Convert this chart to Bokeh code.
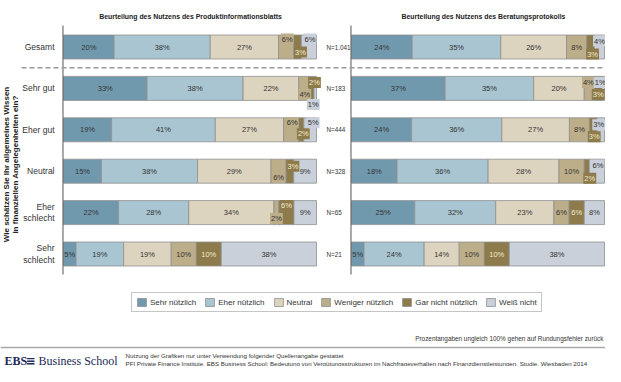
import math
from bokeh.plotting import figure
from bokeh.models import ColumnDataSource, Range1d, Label, Legend, LegendItem
from bokeh.core.properties import value
from bokeh.embed import file_html
from bokeh.resources import INLINE

# ---------------- data ----------------
series = ["Sehr nützlich", "Eher nützlich", "Neutral", "Weniger nützlich",
          "Gar nicht nützlich", "Weiß nicht"]
rows = ["Gesamt", "Sehr gut", "Eher gut", "Neutral", "Eher\nschlecht", "Sehr\nschlecht"]
n_labels = ["N=1.041", "N=183", "N=444", "N=328", "N=65", "N=21"]
titles = ["Beurteilung des Nutzens des Produktinformationsblatts",
          "Beurteilung des Nutzens des Beratungsprotokolls"]
axis_title = ["Wie schätzen Sie Ihr allgemeines Wissen",
              "in finanziellen Angelegenheiten ein?"]

# Produktinformationsblatt
pib_sehr = [20, 33, 19, 15, 22, 5]
pib_eher = [38, 38, 41, 38, 28, 19]
pib_neutral = [27, 22, 27, 29, 34, 19]
pib_weniger = [6, 4, 6, 6, 2, 10]
pib_garnicht = [3, 2, 2, 3, 6, 10]
pib_weiss = [6, 1, 5, 9, 9, 38]

# Beratungsprotokoll
bp_sehr = [24, 37, 24, 18, 25, 5]
bp_eher = [35, 35, 36, 36, 32, 24]
bp_neutral = [26, 20, 27, 28, 23, 14]
bp_weniger = [8, 4, 8, 10, 6, 10]
bp_garnicht = [3, 3, 3, 2, 6, 10]
bp_weiss = [4, 1, 3, 6, 8, 38]

panels = [
    [pib_sehr, pib_eher, pib_neutral, pib_weniger, pib_garnicht, pib_weiss],
    [bp_sehr, bp_eher, bp_neutral, bp_weniger, bp_garnicht, bp_weiss],
]

footnote = "Prozentangaben ungleich 100% gehen auf Rundungsfehler zurück"
footer1 = "Nutzung der Grafiken nur unter Verwendung folgender Quellenangabe gestattet"
footer2 = ("PFI Private Finance Institute, EBS Business School: Bedeutung von Vergütungsstrukturen "
           "im Nachfrageverhalten nach Finanzdienstleistungen, Studie, Wiesbaden 2014")

# ---------------- style / layout ----------------
colors = ["#7199ad", "#a8c5d1", "#ddd4bf", "#bdae8a", "#8e7b4b", "#c9d0d9"]
text_dark = "#333333"
text_light = "#f2e9cc"
FONT = "Liberation Sans"

W, H = 605, 366
S = 2.53          # px per percent
X0 = 71           # page x of 0 %
R_PAGE = 359      # page x of right panel 0 %
ROW_H = 41.4
Y0 = 54.5


def xd(px):
    return (px - X0) / S


def yd(py):
    return (py - Y0) / ROW_H


def sx(px):
    return px - 8


def sy(py):
    return 374 - py


R_OFF = xd(R_PAGE)
offsets = [0.0, R_OFF]

# label placement tweaks for small segments: (panel,row,series) -> (dx,dy) px
label_shift = {
    (0, 0, 3): (1, -8), (0, 0, 4): (3, 5), (0, 0, 5): (1, -8),
    (0, 1, 3): (1, 6), (0, 1, 4): (3, -6), (0, 1, 5): (-2, 16),
    (0, 2, 3): (1, -7), (0, 2, 4): (2, 4), (0, 2, 5): (3, -7),
    (0, 3, 3): (0, 6), (0, 3, 4): (3, -5),
    (0, 4, 3): (0, 6), (0, 4, 4): (0, -7),
    (1, 0, 4): (2, 7), (1, 0, 5): (0, -6),
    (1, 1, 3): (-1, -6), (1, 1, 4): (0, 6), (1, 1, 5): (-3, -6),
    (1, 2, 4): (1, 7), (1, 2, 5): (-2, -5),
    (1, 3, 4): (3, 7), (1, 3, 5): (1, -6),
}

p = figure(width=W, height=H, output_backend="svg", toolbar_location=None,
           x_range=Range1d(xd(8), xd(613)), y_range=Range1d(yd(374), yd(8)),
           min_border=0, x_axis_location=None, y_axis_location=None)
p.outline_line_color = None
p.grid.visible = False
p.background_fill_color = "white"
p.border_fill_color = "white"

# ---------------- bars ----------------
bar_h = 24 / ROW_H
renderers = []
lab_plain = dict(x=[], y=[], text=[], dx=[], dy=[], color=[])
lab_box = dict(x=[], y=[], text=[], dx=[], dy=[], color=[], bg=[])

for si, name in enumerate(series):
    left, right, ys = [], [], []
    for pi, data in enumerate(panels):
        for ri in range(len(rows)):
            total = sum(d[ri] for d in data)
            start = sum(d[ri] for d in data[:si]) * 100.0 / total
            end = start + data[si][ri] * 100.0 / total
            left.append(offsets[pi] + start)
            right.append(offsets[pi] + end)
            ys.append(ri)
            v = data[si][ri]
            cx = offsets[pi] + (start + end) / 2
            tcol = text_light if si == 4 else text_dark
            key = (pi, ri, si)
            if key in label_shift:
                dx, dy = label_shift[key]
                lab_box["x"].append(cx); lab_box["y"].append(ri)
                lab_box["text"].append(f"{v}%"); lab_box["dx"].append(dx)
                lab_box["dy"].append(dy); lab_box["color"].append(tcol)
                lab_box["bg"].append(colors[si])
            else:
                lab_plain["x"].append(cx); lab_plain["y"].append(ri)
                lab_plain["text"].append(f"{v}%"); lab_plain["dx"].append(0)
                lab_plain["dy"].append(0); lab_plain["color"].append(tcol)
    src = ColumnDataSource(dict(left=left, right=right, y=ys))
    r = p.hbar(y="y", left="left", right="right", height=bar_h, source=src,
               fill_color=colors[si], line_color="#8f8f8f", line_width=0.8)
    renderers.append(r)

p.text(x="x", y="y", text="text", x_offset="dx", y_offset="dy",
       text_color="color", source=ColumnDataSource(lab_plain),
       text_align="center", text_baseline="middle",
       text_font=value(FONT), text_font_size="7.5px")
p.text(x="x", y="y", text="text", x_offset="dx", y_offset="dy",
       text_color="color", source=ColumnDataSource(lab_box),
       background_fill_color="bg", padding=1,
       text_align="center", text_baseline="middle",
       text_font=value(FONT), text_font_size="7.5px")

# ---------------- axis lines / separators ----------------
for off in offsets:
    p.segment(x0=[off - 0.2], x1=[off - 0.2], y0=[yd(33)], y1=[yd(282)],
              line_color="#555555", line_width=1)
p.segment(x0=[xd(29)], x1=[xd(613)], y0=[0.5], y1=[0.5],
          line_color="#9a9a9a", line_width=1.5, line_dash="5 3")
p.segment(x0=[xd(8)], x1=[xd(613)], y0=[yd(355)], y1=[yd(355)],
          line_color="#a8a8a8", line_width=1.5)

# ---------------- category / N labels ----------------
p.text(x=[xd(62)] * len(rows), y=list(range(len(rows))), text=rows,
       text_align="right", text_baseline="middle", text_color=text_dark,
       text_font=value(FONT), text_font_size="8.5px",
       text_line_height=1.15)
p.text(x=[xd(334)] * len(n_labels), y=list(range(len(n_labels))), text=n_labels,
       text_align="left", text_baseline="middle", text_color=text_dark,
       text_font=value(FONT), text_font_size="6.3px")

# ---------------- titles ----------------
for t, cx in zip(titles, [198, 491]):
    p.add_layout(Label(x=sx(cx), y=sy(24), x_units="screen", y_units="screen",
                       text=t, text_align="center", text_baseline="middle",
                       text_font=FONT, text_font_style="bold",
                       text_font_size="6.9px", text_color="#222222"))

for t, px in zip(axis_title, [14, 23]):
    p.add_layout(Label(x=sx(px), y=sy(172), x_units="screen", y_units="screen",
                       text=t, angle=math.pi / 2, text_align="center",
                       text_baseline="middle", text_font=FONT,
                       text_font_style="bold", text_font_size="8px",
                       text_color="#222222"))

# ---------------- legend ----------------
legend = Legend(items=[LegendItem(label=n, renderers=[r]) for n, r in zip(series, renderers)],
                orientation="horizontal", location=(sx(139), sy(320)),
                glyph_width=11, glyph_height=10, label_standoff=3, spacing=8,
                padding=4, margin=0, label_height=10, label_width=10,
                label_text_font=FONT, label_text_font_size="8px",
                label_text_color=text_dark, border_line_color="#8c8c8c",
                border_line_width=1, background_fill_color="white",
                background_fill_alpha=1)
p.add_layout(legend)

# ---------------- notes and footer ----------------
p.add_layout(Label(x=sx(611), y=sy(346), x_units="screen", y_units="screen",
                   text=footnote, text_align="right", text_baseline="middle",
                   text_font=FONT, text_font_size="6.4px",
                   text_color=text_dark))
p.add_layout(Label(x=sx(12), y=sy(368), x_units="screen", y_units="screen",
                   text="EBS", text_align="left", text_baseline="middle",
                   text_font="Liberation Serif", text_font_style="bold",
                   text_font_size="12px", text_color="#1d2a57"))
p.add_layout(Label(x=sx(33), y=sy(368), x_units="screen", y_units="screen",
                   text="≡", text_align="left", text_baseline="middle",
                   text_font="DejaVu Sans", text_font_style="bold",
                   text_font_size="12px", text_color="#1d2a57"))
p.add_layout(Label(x=sx(46), y=sy(368), x_units="screen", y_units="screen",
                   text="Business School", text_align="left", text_baseline="middle",
                   text_font="Liberation Serif", text_font_size="12px",
                   text_color="#1d2a57"))
p.add_layout(Label(x=sx(133), y=sy(362.5), x_units="screen", y_units="screen",
                   text=footer1, text_align="left", text_baseline="middle",
                   text_font=FONT, text_font_size="6.2px",
                   text_color=text_dark))
p.add_layout(Label(x=sx(133), y=sy(370.5), x_units="screen", y_units="screen",
                   text=footer2, text_align="left", text_baseline="middle",
                   text_font=FONT, text_font_size="6.2px",
                   text_color=text_dark))

open("out.html", "w").write(file_html(p, INLINE))
